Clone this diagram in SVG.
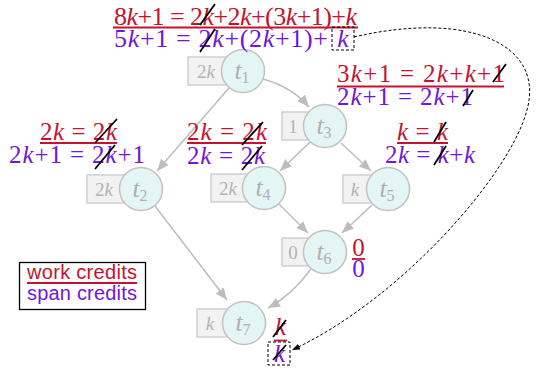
<svg xmlns="http://www.w3.org/2000/svg" width="538" height="370" viewBox="0 0 538 370">
<style>
.edge{fill:none;stroke:#bdbdbd;stroke-width:1.5}
.box{fill:#f2f2f2;stroke:#c9c9c9;stroke-width:1.3}
.circ{fill:#e3f6f5;stroke:#c2c2c2;stroke-width:1.5}
.tl{font-family:"Liberation Serif",serif;font-style:italic;font-size:26px;fill:#b0b0b0;text-anchor:middle}
.sub{font-style:normal;font-size:16px}
.bt{font-family:"Liberation Serif",serif;font-size:19px;fill:#b3b3b3;text-anchor:middle}
.m{font-family:"Liberation Serif",serif;font-size:25px}
.big{font-size:26px}
.red{fill:#c4122f}
.pur{fill:#7216d9}
.i{font-style:italic}
.ul{stroke:#c4122f;stroke-width:1.8}
.sl{stroke:#000;stroke-width:1.8}
.dash{fill:none;stroke:#000;stroke-width:1;stroke-dasharray:3,2}
.leg{font-family:"Liberation Sans",Arial,sans-serif;font-size:20px}
</style>
<defs>
<marker id="ah" viewBox="0 0 12 10" refX="12" refY="5" markerWidth="12" markerHeight="10" markerUnits="userSpaceOnUse" orient="auto"><path d="M0,0 L12,5 L0,10 z" fill="#bdbdbd"/></marker>
<marker id="ahb" viewBox="0 0 8 6" refX="8" refY="3" markerWidth="8" markerHeight="6" markerUnits="userSpaceOnUse" orient="auto"><path d="M0,0 L8,3 L0,6 z" fill="#000"/></marker>
</defs>

<g id="connectors">
<path class="edge" marker-end="url(#ah)" d="M263,79 Q292,87 309,107"/>
<path class="edge" marker-end="url(#ah)" d="M229,88 L157,171"/>
<path class="edge" marker-end="url(#ah)" d="M310,142 L280,171"/>
<path class="edge" marker-end="url(#ah)" d="M341,143 L371,171"/>
<path class="edge" marker-end="url(#ah)" d="M279,204 L308,233"/>
<path class="edge" marker-end="url(#ah)" d="M372,205 L342,233"/>
<path class="edge" marker-end="url(#ah)" d="M155,206 L227,300"/>
<path class="edge" marker-end="url(#ah)" d="M311,269 Q292,295 268,308"/>
<path class="dash" marker-end="url(#ahb)" d="M354,37 C470,10 545,45 527,110 C510,175 400,300 292,350"/>
</g>

<g id="t1">
<rect class="box" x="188" y="57" width="55" height="28"/>
<text class="bt" x="206" y="78">2<tspan class="i">k</tspan></text>
<circle class="circ" cx="243" cy="71" r="21.5"/>
<text class="tl" x="242" y="79">t<tspan class="sub" dy="4">1</tspan></text>
</g>
<g id="t2">
<rect class="box" x="87" y="175" width="54" height="28"/>
<text class="bt" x="104" y="196">2<tspan class="i">k</tspan></text>
<circle class="circ" cx="141" cy="189" r="21.5"/>
<text class="tl" x="140" y="197">t<tspan class="sub" dy="4">2</tspan></text>
</g>
<g id="t3">
<rect class="box" x="282" y="112" width="43" height="28"/>
<text class="bt" x="293" y="133">1</text>
<circle class="circ" cx="325" cy="126" r="21.5"/>
<text class="tl" x="324" y="134">t<tspan class="sub" dy="4">3</tspan></text>
</g>
<g id="t4">
<rect class="box" x="211" y="174" width="53" height="28"/>
<text class="bt" x="228" y="195">2<tspan class="i">k</tspan></text>
<circle class="circ" cx="264" cy="188" r="21.5"/>
<text class="tl" x="263" y="196">t<tspan class="sub" dy="4">4</tspan></text>
</g>
<g id="t5">
<rect class="box" x="343" y="175" width="45" height="28"/>
<text class="bt" x="355" y="196"><tspan class="i">k</tspan></text>
<circle class="circ" cx="388" cy="189" r="21.5"/>
<text class="tl" x="387" y="197">t<tspan class="sub" dy="4">5</tspan></text>
</g>
<g id="t6">
<rect class="box" x="282" y="238" width="43" height="28"/>
<text class="bt" x="293" y="259">0</text>
<circle class="circ" cx="325" cy="252" r="21.5"/>
<text class="tl" x="324" y="260">t<tspan class="sub" dy="4">6</tspan></text>
</g>
<g id="t7">
<rect class="box" x="197" y="309" width="47" height="28"/>
<text class="bt" x="210" y="330"><tspan class="i">k</tspan></text>
<circle class="circ" cx="244" cy="323" r="21.5"/>
<text class="tl" x="243" y="331">t<tspan class="sub" dy="4">7</tspan></text>
</g>

<g id="label-t1">
<text class="m big red" x="114" y="25" textLength="243" lengthAdjust="spacing">8<tspan class="i">k</tspan>+1 = 2<tspan class="i">k</tspan>+2<tspan class="i">k</tspan>+(3<tspan class="i">k</tspan>+1)+<tspan class="i">k</tspan></text>
<line class="ul" x1="113" y1="27.5" x2="358" y2="27.5"/>
<text class="m big pur" x="114" y="47" textLength="214" lengthAdjust="spacing">5<tspan class="i">k</tspan>+1 = 2<tspan class="i">k</tspan>+(2<tspan class="i">k</tspan>+1)+</text>
<text class="m big pur i" x="343" y="47" text-anchor="middle">k</text>
<rect class="dash" x="332" y="27" width="22" height="23"/>
<line class="sl" x1="200" y1="25" x2="215" y2="4"/>
<line class="sl" x1="200" y1="52" x2="215" y2="29"/>
</g>

<g id="label-t3">
<text class="m red" x="337" y="82" textLength="168" lengthAdjust="spacing">3<tspan class="i">k</tspan>+1 = 2<tspan class="i">k</tspan>+<tspan class="i">k</tspan>+1</text>
<line class="ul" x1="337" y1="86.5" x2="504" y2="86.5"/>
<text class="m pur" x="337" y="105" textLength="136" lengthAdjust="spacing">2<tspan class="i">k</tspan>+1 = 2<tspan class="i">k</tspan>+1</text>
<line class="sl" x1="493" y1="82" x2="506" y2="64"/>
<line class="sl" x1="463" y1="106" x2="473" y2="90"/>
</g>

<g id="label-t2">
<text class="m red" x="40" y="140" textLength="77" lengthAdjust="spacing">2<tspan class="i">k</tspan> = 2<tspan class="i">k</tspan></text>
<line class="ul" x1="40" y1="143" x2="117" y2="143"/>
<text class="m pur" x="9" y="163" textLength="136" lengthAdjust="spacing">2<tspan class="i">k</tspan>+1 = 2<tspan class="i">k</tspan>+1</text>
<line class="sl" x1="95" y1="143" x2="117" y2="119"/>
<line class="sl" x1="95" y1="169" x2="115" y2="145"/>
</g>

<g id="label-t4">
<text class="m red" x="187" y="140" textLength="80" lengthAdjust="spacing">2<tspan class="i">k</tspan> = 2<tspan class="i">k</tspan></text>
<line class="ul" x1="187" y1="143" x2="266" y2="143"/>
<text class="m pur" x="187" y="164" textLength="78" lengthAdjust="spacing">2<tspan class="i">k</tspan> = 2<tspan class="i">k</tspan></text>
<line class="sl" x1="242" y1="145" x2="263" y2="122"/>
<line class="sl" x1="242" y1="170" x2="262" y2="146"/>
</g>

<g id="label-t5">
<text class="m red" x="397" y="140" textLength="51" lengthAdjust="spacing"><tspan class="i">k</tspan> = <tspan class="i">k</tspan></text>
<line class="ul" x1="397" y1="143" x2="448" y2="143"/>
<text class="m pur" x="385" y="163" textLength="90" lengthAdjust="spacing">2<tspan class="i">k</tspan> = <tspan class="i">k</tspan>+<tspan class="i">k</tspan></text>
<line class="sl" x1="434" y1="142" x2="446" y2="122"/>
<line class="sl" x1="434" y1="165" x2="446" y2="146"/>
</g>

<g id="label-t6">
<text class="m red" x="358.5" y="256" text-anchor="middle">0</text>
<line class="ul" x1="352" y1="259" x2="365" y2="259"/>
<text class="m pur" x="358.5" y="277" text-anchor="middle">0</text>
</g>

<g id="label-t7">
<text class="m red i" x="280.5" y="335" text-anchor="middle">k</text>
<line class="ul" x1="274" y1="340.5" x2="287" y2="340.5"/>
<rect class="dash" x="268" y="342" width="22" height="23"/>
<text class="m pur i" x="279.5" y="362" text-anchor="middle">k</text>
<line class="sl" x1="273" y1="337" x2="286" y2="320"/>
<line class="sl" x1="273" y1="360" x2="286" y2="345"/>
</g>

<g id="legend">
<rect x="19.5" y="262.5" width="126" height="47" fill="#fff" stroke="#000" stroke-width="1.3"/>
<text class="leg red" x="27" y="279" textLength="110" lengthAdjust="spacing">work credits</text>
<line class="ul" x1="27" y1="283" x2="137" y2="283"/>
<text class="leg pur" x="27" y="300" textLength="110" lengthAdjust="spacing">span credits</text>
</g>
</svg>
